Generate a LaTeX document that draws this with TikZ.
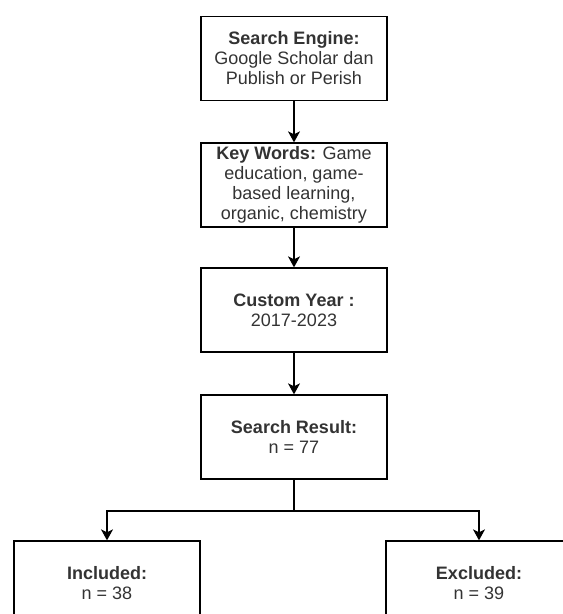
\documentclass[tikz,border=0pt]{standalone}
\usepackage{fontspec}
\setmainfont{Liberation Sans}
\usetikzlibrary{arrows.meta,positioning}

\begin{document}
\begin{tikzpicture}[x=1pt,y=-1pt,
	box_node/.style={rectangle,draw,line width=1.3pt,minimum width=186pt,minimum height=84pt,inner sep=2pt,align=center,text=black!80,font=\fontsize{18}{20}\selectfont},
	flow_line/.style={line width=1.3pt,-{Stealth[length=11pt,width=12pt,inset=3pt]}}]
	
	\clip (0,0) rectangle (563,614);
	
	\node[box_node] (engine) at (294,58.5) {\textbf{Search Engine:}\\Google Scholar dan\\Publish or Perish};
	\node[box_node] (keywords) at (294,185) {\textbf{Key Words:} Game\\education, game-\\based learning,\\organic, chemistry};
	\node[box_node] (year) at (294,310) {\textbf{Custom Year :}\\2017-2023};
	\node[box_node] (result) at (294,437) {\textbf{Search Result:}\\n = 77};
	\node[box_node] (included) at (107,583) {\textbf{Included:}\\n = 38};
	\node[box_node] (excluded) at (479,583) {\textbf{Excluded:}\\n = 39};
	
	\coordinate (fork) at (294,511);
	
	\draw[flow_line] (engine) -- (keywords);
	\draw[flow_line] (keywords) -- (year);
	\draw[flow_line] (year) -- (result);
	\draw[line width=1.3pt] (result) -- (fork);
	\draw[flow_line] (fork) -| (included);
	\draw[flow_line] (fork) -| (excluded);
\end{tikzpicture}
\end{document}
